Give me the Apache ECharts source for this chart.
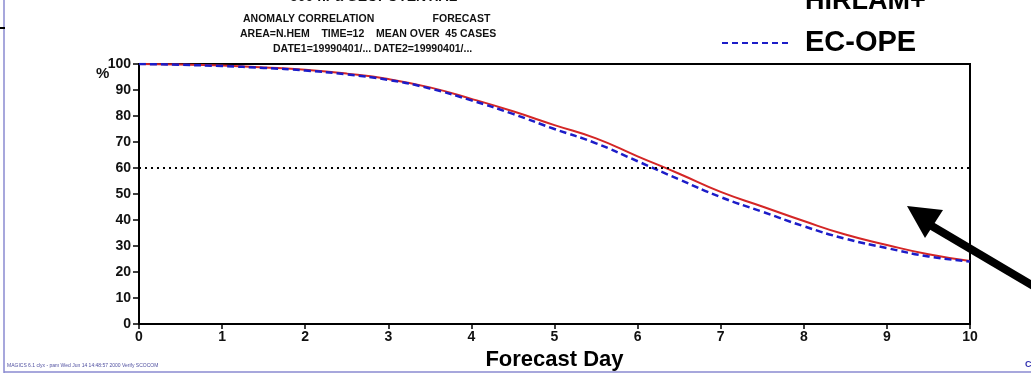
<!DOCTYPE html>
<html lang="en">
<head>
<meta charset="UTF-8">
<title>Anomaly correlation</title>
<script src="https://cdn.jsdelivr.net/npm/echarts@6/dist/echarts.min.js"></script>
<style>
  html, body { margin: 0; padding: 0; background: #fff; }
  #chart { width: 1031px; height: 376px; }
</style>
</head>
<body>
<div id="chart"></div>
<script>
// forecast day (half-day steps) and anomaly correlation in %
var days   = [0, 0.5, 1, 1.5, 2, 2.5, 3, 3.5, 4, 4.5, 5, 5.5, 6, 6.5, 7, 7.5, 8, 8.5, 9, 9.5, 10];
var hirlam = [100, 99.8, 99.4, 98.7, 97.8, 96.3, 94.2, 91, 86.6, 81.8, 76.5, 71.4, 64.5, 57.8, 50.8, 45.2, 39.6, 34.4, 30.4, 26.8, 24.2];
var ecope  = [100, 99.7, 99.2, 98.5, 97.5, 96.0, 93.9, 90.6, 86.0, 80.8, 75.0, 69.5, 62.6, 55.6, 48.8, 43.2, 37.6, 32.8, 29.2, 26.0, 24.0];
var refLevel = 60;

function pairs(xs, ys) {
    var out = [];
    for (var i = 0; i < xs.length; i++) out.push([xs[i], ys[i]]);
    return out;
}

var chart = echarts.init(document.getElementById('chart'), null, { renderer: 'canvas' });
var bold = 'bold';
var font = 'Liberation Sans, Arial, sans-serif';

chart.setOption({
    animation: false,
    backgroundColor: '#fff',
    grid: { left: 139, right: 61, top: 64, bottom: 52, outerBoundsMode: 'none', containLabel: false,
            show: true, borderColor: '#000', borderWidth: 2, backgroundColor: 'transparent' },
    xAxis: {
        type: 'value', min: 0, max: 10, interval: 1,
        axisLine: { lineStyle: { color: '#000', width: 2 } },
        axisTick: { show: true, length: 5, lineStyle: { color: '#000', width: 1.5 } },
        axisLabel: { color: '#111', fontWeight: bold, fontSize: 14, fontFamily: font, margin: 6 },
        splitLine: { show: false },
        name: 'Forecast Day', nameLocation: 'middle', nameGap: 23,
        nameTextStyle: { color: '#000', fontWeight: bold, fontSize: 22, fontFamily: font }
    },
    yAxis: {
        type: 'value', min: 0, max: 100, interval: 10,
        axisLine: { show: true, lineStyle: { color: '#000', width: 2 } },
        axisTick: { show: true, length: 6, lineStyle: { color: '#000', width: 1.5 } },
        axisLabel: { color: '#111', fontWeight: bold, fontSize: 14, fontFamily: font, margin: 8 },
        splitLine: { show: false }
    },
    series: [
        {
            name: 'HIRLAM+', type: 'line', data: pairs(days, hirlam), smooth: true, symbol: 'none',
            lineStyle: { color: '#d42626', width: 2 }, z: 3,
            markLine: {
                silent: true, symbol: 'none', label: { show: false },
                lineStyle: { color: '#000', type: [2, 4], width: 2 },
                data: [{ yAxis: refLevel }]
            }
        },
        {
            name: 'EC-OPE', type: 'line', data: pairs(days, ecope), smooth: true, symbol: 'none',
            lineStyle: { color: '#1c1cc8', width: 2.5, type: [7, 4] }, z: 4
        }
    ],
    graphic: [
        // page frame
        { type: 'line', shape: { x1: 4, y1: 0, x2: 4, y2: 373 }, style: { stroke: '#8a8ad0', lineWidth: 1.5 } },
        { type: 'line', shape: { x1: 4, y1: 372, x2: 1031, y2: 372 }, style: { stroke: '#8a8ad0', lineWidth: 1.5 } },
        { type: 'line', shape: { x1: 0, y1: 28, x2: 5, y2: 28 }, style: { stroke: '#000', lineWidth: 2 } },
        // title block
        { type: 'text', left: 290, top: -10, style: { text: '500 hPa GEOPOTENTIAL', font: 'bold 14px ' + font, fill: '#111' } },
        { type: 'text', left: 243, top: 14, style: { text: 'ANOMALY CORRELATION                    FORECAST', font: 'bold 10.5px ' + font, fill: '#111' } },
        { type: 'text', left: 240, top: 29, style: { text: 'AREA=N.HEM    TIME=12    MEAN OVER  45 CASES', font: 'bold 10.5px ' + font, fill: '#111' } },
        { type: 'text', left: 273, top: 44, style: { text: 'DATE1=19990401/... DATE2=19990401/...', font: 'bold 10.5px ' + font, fill: '#111' } },
        // legend
        { type: 'text', left: 805, top: -12, style: { text: 'HIRLAM+', font: 'bold 27px ' + font, fill: '#000' } },
        { type: 'line', shape: { x1: 722, y1: 43, x2: 790, y2: 43 }, style: { stroke: '#1c1cc8', lineWidth: 2, lineDash: [6, 4] } },
        { type: 'text', left: 805, top: 28, style: { text: 'EC-OPE', font: 'bold 29px ' + font, fill: '#000' } },
        // unit
        { type: 'text', left: 96, top: 66, style: { text: '%', font: 'bold 15px ' + font, fill: '#111' } },
        // footer
        { type: 'text', left: 7, top: 363, style: { text: 'MAGICS 6.1 clyx - pam Wed Jun 14 14:48:57 2000 Verify SCOCOM', font: '5px ' + font, fill: '#5050a0' } },
        { type: 'text', left: 1025, top: 360, style: { text: 'C', font: 'bold 9px ' + font, fill: '#3030b0' } },
        // annotation arrow
        { type: 'line', shape: { x1: 1040, y1: 290, x2: 925, y2: 222 }, style: { stroke: '#000', lineWidth: 8 }, z: 10 },
        { type: 'polygon', shape: { points: [[907, 206], [943, 210], [925, 238]] }, style: { fill: '#000' }, z: 10 }
    ]
});
</script>
</body>
</html>
